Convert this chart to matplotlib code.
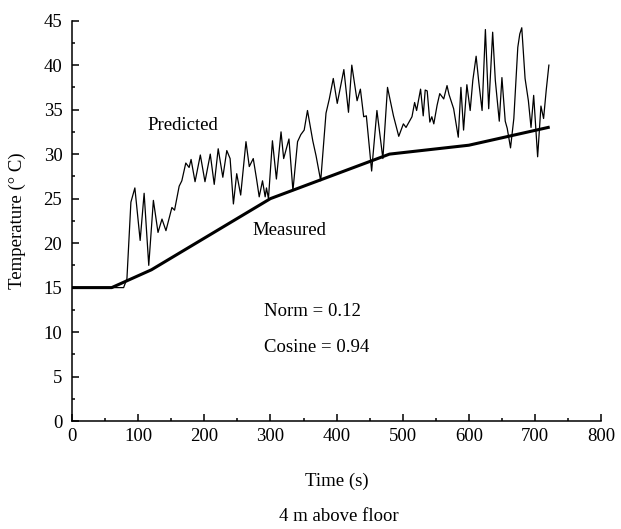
import matplotlib
matplotlib.use('Agg')
import numpy as np
import matplotlib.pyplot as plt
from matplotlib.ticker import MultipleLocator

# ============================================================
# data
# ============================================================
meas_t = [0, 60, 120, 300, 480, 600, 720]
meas_T = [15, 15, 17, 25, 30, 31, 33]

pred_t = [0, 78, 83, 89, 95, 103, 109, 116, 123, 130, 136, 142, 151, 155,
          162, 166, 172, 177, 180, 186, 194, 201, 209, 215, 221, 228, 234,
          239, 244, 249, 255, 263, 268, 274, 279, 283, 288, 292, 294, 297,
          303, 309, 316, 320, 328, 334, 341, 346, 351, 356, 364, 369, 376,
          384, 389, 395, 401, 411, 418, 423, 431, 436, 441, 445, 453, 461,
          470, 477, 486, 494, 501, 505, 514, 518, 521, 527, 531, 534, 537,
          541, 544, 547, 552, 556, 562, 567, 570, 577, 584, 588, 592, 597,
          602, 606, 611, 615, 620, 625, 630, 636, 640, 646, 650, 655, 658,
          663, 668, 674, 677, 680, 685, 690, 694, 698, 704, 709, 713, 717,
          721]
pred_T = [15, 15, 16, 24.6, 26.2, 20.3, 25.6, 17.5, 24.8, 21.2, 22.7, 21.4,
          24.0, 23.7, 26.4, 27.0, 29.0, 28.5, 29.4, 26.9, 29.9, 26.9, 30.0,
          26.6, 30.6, 27.4, 30.4, 29.5, 24.4, 27.8, 25.4, 31.4, 28.6, 29.5,
          27.2, 25.2, 27.0, 25.2, 26.2, 25.0, 31.5, 27.2, 32.5, 29.5, 31.7,
          25.9, 31.4, 32.2, 32.7, 34.9, 31.5, 29.8, 27.0, 34.6, 36.2, 38.5,
          35.7, 39.5, 34.7, 40.0, 36.0, 37.3, 34.2, 34.3, 28.1, 34.9, 29.5,
          37.5, 34.3, 32.0, 33.4, 33.0, 34.2, 35.8, 34.9, 37.3, 34.3, 37.2,
          37.1, 33.6, 34.2, 33.4, 35.5, 36.8, 36.2, 37.7, 36.7, 35.1, 31.9,
          37.5, 32.7, 37.8, 34.9, 38.3, 41.0, 38.1, 34.9, 44.0, 35.1, 43.7,
          38.3, 33.7, 38.6, 33.7, 32.9, 30.7, 34.0, 42.0, 43.5, 44.2, 38.5,
          36.0, 33.0, 36.6, 29.7, 35.4, 34.0, 37.2, 40.0]

norm_val = 0.12
cos_val = 0.94

# ============================================================
# plot
# ============================================================
plt.rcParams['font.family'] = ['Liberation Serif', 'DejaVu Serif']
plt.rcParams['font.size'] = 13.5

fig = plt.figure(figsize=(6.21, 5.29), dpi=100)
ax = fig.add_axes([0.116, 0.204, 0.852, 0.757])

ax.plot(pred_t, pred_T, color='black', lw=0.9)
ax.plot(meas_t, meas_T, color='black', lw=2.2)

ax.set_xlim(0, 800)
ax.set_ylim(0, 45)
ax.xaxis.set_major_locator(MultipleLocator(100))
ax.xaxis.set_minor_locator(MultipleLocator(50))
ax.yaxis.set_major_locator(MultipleLocator(5))
ax.yaxis.set_minor_locator(MultipleLocator(2.5))

for s in ['top', 'right']:
    ax.spines[s].set_visible(False)
for s in ['left', 'bottom']:
    ax.spines[s].set_linewidth(1.1)

ax.tick_params(which='both', direction='in', width=1.1)
ax.tick_params(which='major', length=4.8)
ax.tick_params(which='minor', length=2.4)
ax.tick_params(axis='y', which='major', pad=7)
ax.tick_params(axis='x', which='major', pad=5)

ax.set_xlabel("Time (s)", labelpad=20)
ax.set_ylabel("Temperature (° C)", labelpad=13)

ax.text(168, 33.2, "Predicted", ha='center', va='center')
ax.text(328, 21.4, "Measured", ha='center', va='center')
ax.text(290, 12.3, f"Norm = {norm_val:.2f}", ha='left', va='center')
ax.text(290, 8.3, f"Cosine = {cos_val:.2f}", ha='left', va='center')

fig.text(0.545, 0.023, "4 m above floor", ha='center', va='center')

fig.savefig("out.png", dpi=100)
